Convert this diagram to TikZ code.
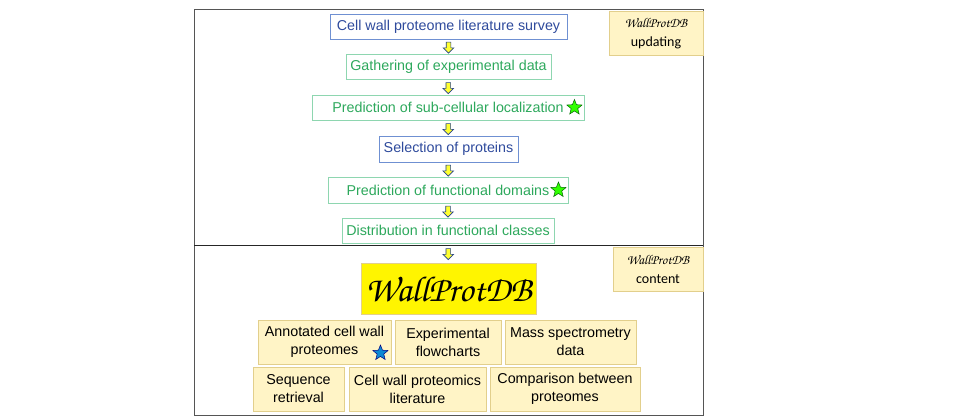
\documentclass[tikz,border=0pt]{standalone}
\usepackage{fontspec}
\setmainfont{Liberation Sans}
\newfontfamily\calibri{Carlito}
\usetikzlibrary{shapes.geometric,shapes.arrows,calc}
\usepackage{xcolor}

\definecolor{txtblue}{HTML}{2E4A9C}
\definecolor{boxblue}{HTML}{6F90D2}
\definecolor{txtgreen}{HTML}{2DA85C}
\definecolor{boxgreen}{HTML}{8ED6B0}
\definecolor{infofill}{HTML}{FFF4C6}
\definecolor{infoline}{HTML}{E2CF8C}
\definecolor{dbyellow}{HTML}{FFF500}
\definecolor{arrowblue}{HTML}{23408A}
\definecolor{arrowyellow}{HTML}{FFFF30}
\definecolor{framegray}{HTML}{555555}

\newcommand{\wpdb}{{\usefont{OT1}{pzc}{mb}{it}WallProtDB}}

\begin{document}
\begin{tikzpicture}[x=1pt,y=-1pt,
    bluestep/.style={draw=boxblue,text=txtblue,line width=0.9pt,inner sep=0pt,
        minimum height=25pt,font=\fontsize{14.3}{16}\selectfont},
    greenstep/.style={bluestep,draw=boxgreen,text=txtgreen},
    infobox/.style={draw=infoline,fill=infofill,line width=0.9pt,inner sep=0pt,
        minimum height=44pt,align=center,font=\fontsize{14.3}{18}\selectfont},
    tagbox/.style={infobox,font=\calibri\fontsize{14}{19}\selectfont},
    flowarrow/.style={single arrow,shape border rotate=270,draw=arrowblue,
        fill=arrowyellow,line width=0.6pt,inner sep=2pt,minimum height=11pt,
        single arrow head extend=3pt},
    greenstar/.style={star,star points=5,star point ratio=2.3,draw=green!40!black,
        fill=green!75!lime,line width=0.5pt,minimum size=16pt,inner sep=0pt},
    bluestar/.style={greenstar,draw=blue!50!black,fill=cyan!70!blue}]
\useasboundingbox (0,0) rectangle (959,420);

% frame and divider
\draw[framegray,line width=1pt] (194,10) rectangle (703,415);
\draw[black!85,line width=1pt] (194,245) -- (703,245);

% updating steps
\node[bluestep,minimum width=237] (survey) at (448.5,26.5) {Cell wall proteome literature survey};
\node[greenstep,minimum width=205] (gather) at (448.5,66.5) {Gathering of experimental data};
\node[greenstep,minimum width=272] (locali) at (448,107.5) {Prediction of sub-cellular localization};
\node[bluestep,minimum width=139,minimum height=26] (select) at (448.5,149) {Selection of proteins};
\node[greenstep,minimum width=240,minimum height=26] (domain) at (448,190) {Prediction of functional domains};
\node[greenstep,minimum width=212] (classes) at (448,230.5) {Distribution in functional classes};

\node[greenstar] (locstar) at ($(locali.east)+(-10,0)$) {};
\node[greenstar] (domstar) at ($(domain.east)+(-10,0)$) {};

% database
\node[draw=infoline,fill=dbyellow,line width=0.9pt,minimum width=175,minimum height=51,
    inner sep=0pt,font=\fontsize{36}{40}\selectfont] (db) at (448.5,288.5) {\wpdb};

\foreach \a/\b in {survey/gather,gather/locali,locali/select,select/domain,domain/classes}
    \node[flowarrow] at ($(\a.south)!0.5!(\b.north)$) {};
\node[flowarrow] (dbarrow) at ($(classes.south)!0.5!(db.north)$) {};

% content
\node[infobox,minimum width=133] (annot) at (324.5,342) {Annotated cell wall\\proteomes\hspace{1.6em}};
\node[infobox,minimum width=106] (flow) at (448,342) {Experimental\\flowcharts};
\node[infobox,minimum width=131] (mass) at (570.5,342) {Mass spectrometry\\data};
\node[infobox,minimum width=91] (seq) at (298.5,389) {Sequence\\retrieval};
\node[infobox,minimum width=137] (lit) at (417.5,389) {Cell wall proteomics\\literature};
\node[infobox,minimum width=150] (comp) at (565,389) {Comparison between\\proteomes};
\node[bluestar] (annstar) at ($(annot.east)+(-11,11)$) {};

% section tags
\node[tagbox,minimum width=94] (tagup) at (656,33.5) {{\fontsize{13.5}{14}\selectfont\wpdb}\\updating};
\node[tagbox,minimum width=90] (tagcont) at (658,269) {{\fontsize{13.5}{14}\selectfont\wpdb}\\content};
\end{tikzpicture}
\end{document}
